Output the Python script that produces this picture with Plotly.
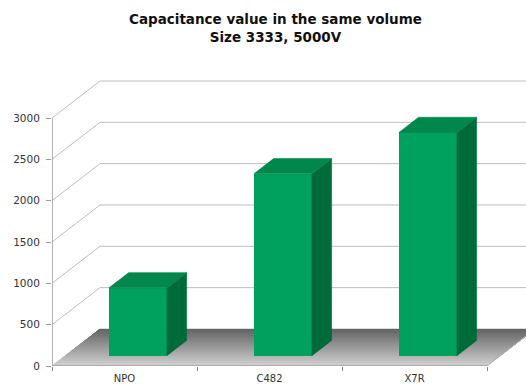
import plotly.graph_objects as go

# ---- data ----
categories = ["NPO", "C482", "X7R"]
values = [820, 2200, 2700]
y_ticks = [0, 500, 1000, 1500, 2000, 2500, 3000]
title_lines = ["Capacitance value in the same volume", "Size 3333, 5000V"]

# ---- 3D oblique projection (style) ----
DX = 0.331     # depth offset in category units
DY = 448.0     # depth offset in value units
Z0, Z1 = 0.28, 0.69   # bar depth span
HALF_W = 0.2
X_MIN, X_MAX = -0.5, len(categories) - 0.5


def P(x, v, z):
    return x + z * DX, v + z * DY


def path(pts):
    return "M " + " L ".join(f"{x},{y}" for x, y in pts) + " Z"


shapes = []
# back wall + left wall gridlines
for v in y_ticks:
    a = P(X_MIN, v, 0)
    b = P(X_MIN, v, 1)
    c = P(X_MAX, v, 1)
    shapes.append(dict(type="path", xref="x", yref="y", layer="below",
                       path=f"M {a[0]},{a[1]} L {b[0]},{b[1]} L {c[0]},{c[1]}",
                       line=dict(color="#BDBDBD", width=1)))

# floor with gradient (each strip reaches to the back, drawn front to back)
N = 40
light, dark = 208, 100
for k in range(N):
    za = k / N
    t = k / (N - 1)
    g = int(round(light + (dark - light) * t))
    pts = [P(X_MIN, 0, za), P(X_MAX, 0, za), P(X_MAX, 0, 1), P(X_MIN, 0, 1)]
    shapes.append(dict(type="path", xref="x", yref="y", layer="below",
                       path=path(pts), fillcolor=f"rgb({g},{g},{g})",
                       line=dict(width=0)))

# floor edges
f0 = P(X_MIN, 0, 0)
f1 = P(X_MAX, 0, 0)
f2 = P(X_MAX, 0, 1)
shapes.append(dict(type="path", xref="x", yref="y", layer="below",
                   path=f"M {f0[0]},{f0[1]} L {f1[0]},{f1[1]}",
                   line=dict(color="#8C8C8C", width=1)))
shapes.append(dict(type="path", xref="x", yref="y", layer="below",
                   path=f"M {f1[0]},{f1[1]} L {f2[0]},{f2[1]}",
                   line=dict(color="#B0B0B0", width=1)))
# vertical value axis line
shapes.append(dict(type="line", xref="x", yref="y", layer="below",
                   x0=X_MIN, x1=X_MIN, y0=0, y1=max(y_ticks),
                   line=dict(color="#9A9A9A", width=1.5)))

fig = go.Figure()

FRONT = "#00A05E"
TOP = "#00874C"
SIDE = "#006B3A"

# front faces as bars
fig.add_trace(go.Bar(
    x=[i + Z0 * DX for i in range(len(categories))],
    y=values,
    base=Z0 * DY,
    width=2 * HALF_W,
    marker=dict(color=FRONT, line=dict(width=0)),
    showlegend=False,
    hoverinfo="skip",
))

for i, val in enumerate(values):
    top = [P(i - HALF_W, val, Z0), P(i + HALF_W, val, Z0),
           P(i + HALF_W, val, Z1), P(i - HALF_W, val, Z1), P(i - HALF_W, val, Z0)]
    side = [P(i + HALF_W, 0, Z0), P(i + HALF_W, val, Z0),
            P(i + HALF_W, val, Z1), P(i + HALF_W, 0, Z1), P(i + HALF_W, 0, Z0)]
    for pts, col in ((side, SIDE), (top, TOP)):
        fig.add_trace(go.Scatter(
            x=[p[0] for p in pts], y=[p[1] for p in pts],
            mode="lines", fill="toself", fillcolor=col,
            line=dict(color=col, width=0.6),
            showlegend=False, hoverinfo="skip",
        ))

W, H = 526, 387
ML, MR, MT, MB = 52, 0, 80, 21
PLOT_H = H - MT - MB
PLOT_W = W - ML - MR
px_per_cat = 145.0
x_right = X_MIN + PLOT_W / px_per_cat

fig.add_annotation(
    text="<br>".join(f"<b>{t}</b>" for t in title_lines),
    xref="paper", yref="paper",
    x=(275 - ML) / PLOT_W, y=(H - MB - 28) / PLOT_H,
    xanchor="center", yanchor="middle",
    showarrow=False, align="center",
    font=dict(family="DejaVu Sans", size=13.5, color="#111111"),
)

fig.update_layout(
    width=W, height=H,
    margin=dict(l=ML, r=MR, t=MT, b=MB, pad=0),
    paper_bgcolor="white", plot_bgcolor="white",
    shapes=shapes,
    bargap=0,
    xaxis=dict(
        range=[X_MIN, x_right],
        tickmode="array",
        tickvals=list(range(len(categories))),
        ticktext=categories,
        ticks="",
        ticklabelstandoff=5,
        showgrid=False, zeroline=False, showline=False,
        tickfont=dict(family="DejaVu Sans", size=10, color="#333333"),
        minor=dict(tickmode="array",
                   tickvals=[X_MIN + k for k in range(len(categories) + 1)],
                   ticks="outside", ticklen=4, tickcolor="#888888", showgrid=False),
        fixedrange=True,
    ),
    yaxis=dict(
        range=[0, 3460],
        tickmode="array",
        tickvals=y_ticks,
        ticktext=[str(v) for v in y_ticks],
        ticks="outside", ticklen=5, tickcolor="#9A9A9A",
        ticklabelstandoff=4,
        showgrid=False, zeroline=False, showline=False,
        tickfont=dict(family="DejaVu Sans", size=10.5, color="#333333"),
        fixedrange=True,
    ),
)

fig.write_html("out.html")
